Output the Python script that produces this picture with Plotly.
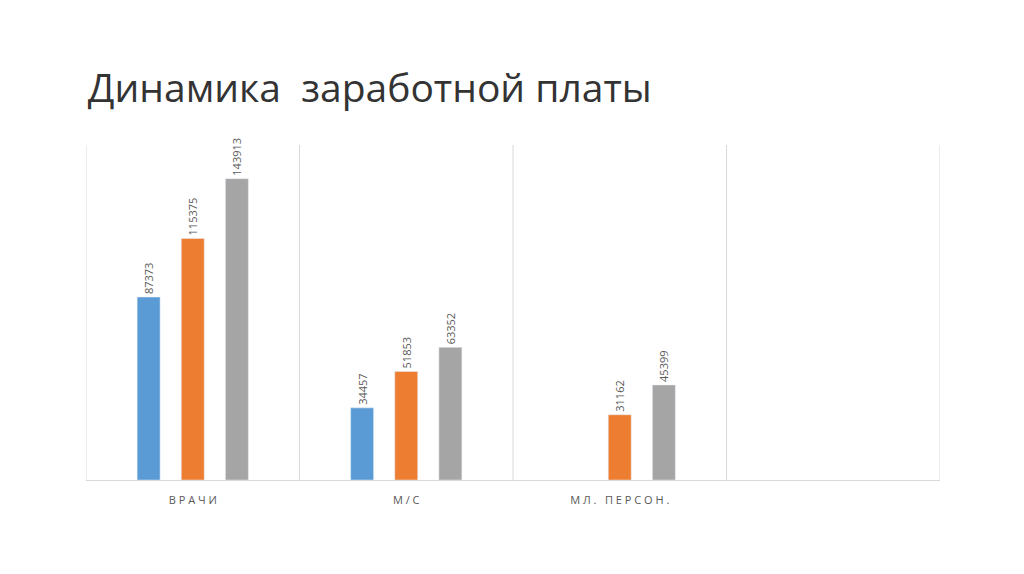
import plotly.graph_objects as go

categories = ["В Р А Ч И", "М / С", "М Л .   П Е Р С О Н .", " "]
series_1 = [87373, 34457, None, None]
series_2 = [115375, 51853, 31162, None]
series_3 = [143913, 63352, 45399, None]
colors = ["#5B9BD5", "#ED7D31", "#A5A5A5"]

fig = go.Figure()
for vals, c in zip([series_1, series_2, series_3], colors):
    fig.add_trace(go.Bar(
        x=categories, y=vals, marker_color=c,
        text=[str(v) if v is not None else "" for v in vals],
        textposition="outside", textangle=-90, constraintext="none",
        textfont=dict(size=11, color="#595959"),
        cliponaxis=False,
    ))

# vertical separators between categories
for i in range(len(categories) + 1):
    fig.add_shape(type="line", xref="x", yref="paper",
                  x0=i - 0.5, x1=i - 0.5, y0=0, y1=1,
                  line=dict(color="#D9D9D9", width=1))

fig.update_layout(
    width=1024, height=574,
    paper_bgcolor="white", plot_bgcolor="white",
    font=dict(family="Open Sans"),
    title=dict(text="Динамика  заработной платы", x=0.078, xanchor="left",
               y=0.86, yanchor="middle",
               font=dict(size=39, color="#333333", family="Open Sans")),
    margin=dict(l=78, r=92, t=137, b=102),
    showlegend=False,
    barmode="group", bargap=0.38, bargroupgap=0.48,
    xaxis=dict(showgrid=False, showline=True, linecolor="#D9D9D9",
               tickfont=dict(size=11, color="#595959"), ticks="outside",
               ticklen=10, tickcolor="white",
               range=[-0.5, 3.5]),
    yaxis=dict(visible=False, range=[0, 160000]),
)

fig.write_html("out.html")
